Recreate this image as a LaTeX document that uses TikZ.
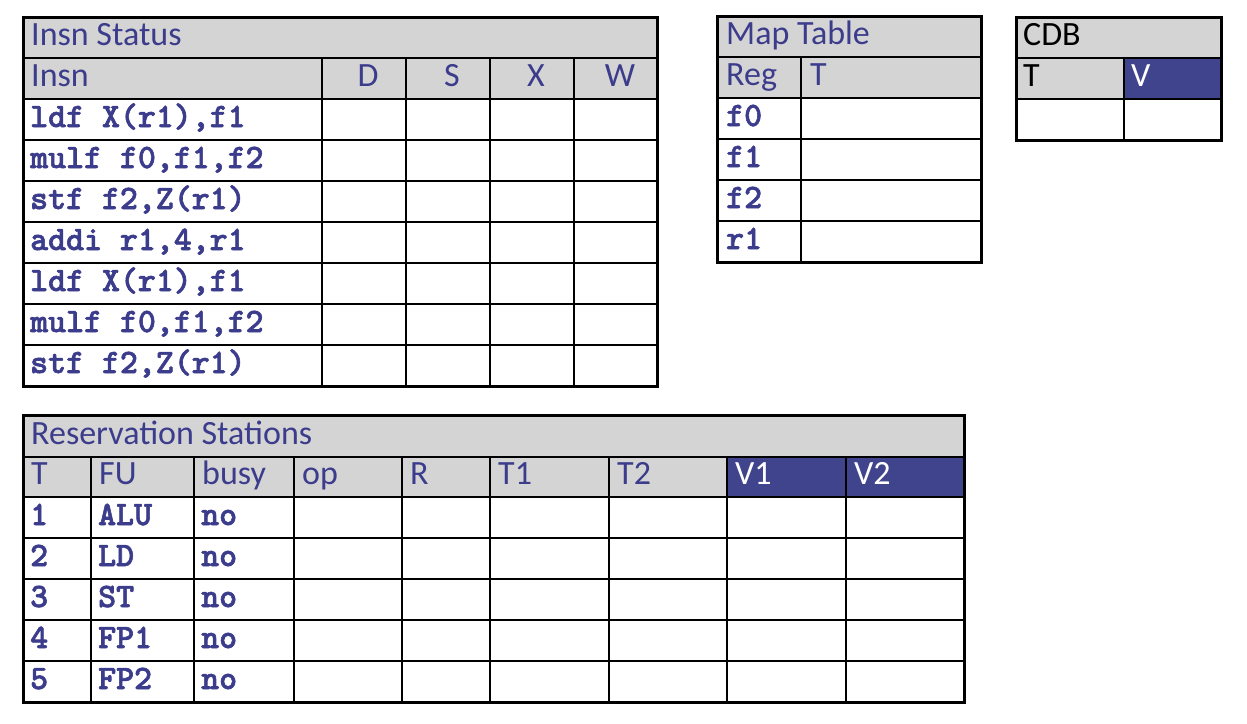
\documentclass[tikz,border=0pt]{standalone}
\usepackage{fontspec}
\setmainfont{Carlito}
\newfontfamily\codefont{lmmonolt10-bold.otf}[FakeBold=1.8]
\definecolor{txtblue}{RGB}{60,60,140}
\definecolor{hdrgray}{RGB}{212,212,212}
\definecolor{vblue}{RGB}{64,68,140}
\begin{document}
\begin{tikzpicture}[x=1pt,y=-1pt,
  lab/.style={anchor=base west, inner sep=0pt, text=txtblue, font=\fontsize{34}{40}\selectfont},
  labc/.style={anchor=base, inner sep=0pt, text=txtblue, font=\fontsize{34}{40}\selectfont},
  code/.style={anchor=base west, inner sep=0pt, text=txtblue, font=\codefont\fontsize{34.2}{40}\selectfont},
  innerln/.style={line width=1.5pt, draw=black},
  outerln/.style={line width=3pt, draw=black},
  grayfill/.style={fill=hdrgray},
  bluefill/.style={fill=vblue}]
\useasboundingbox (0,0) rectangle (1247,723);

% ================= Insn Status =================
\fill[grayfill] (23,17) rectangle (657,99);
\foreach \y in {58,99,140,181,222,263,304,345}
  \draw[innerln] (23,\y) -- (657,\y);
\foreach \x in {322,406,490,574}
  \draw[innerln] (\x,58) -- (\x,386);
\draw[outerln] (23,17) rectangle (657,386);
\node[lab] (istitle) at (31,45) {Insn Status};
\node[lab] (ishdr) at (31,86) {Insn};
\node[labc] (isD) at (368,86) {D};
\node[labc] (isS) at (452,86) {S};
\node[labc] (isX) at (536,86) {X};
\node[labc] (isW) at (620,86) {W};
\foreach \t [count=\i from 0] in {ldf X(r1){,}f1, mulf f0{,}f1{,}f2, stf f2{,}Z(r1), addi r1{,}4{,}r1, ldf X(r1){,}f1, mulf f0{,}f1{,}f2, stf f2{,}Z(r1)}
  \node[code] (ins\i) at (30,{127+41*\i}) {\t};

% ================= Map Table =================
\fill[grayfill] (717,16) rectangle (981,98);
\foreach \y in {57,98,139,180,221}
  \draw[innerln] (717,\y) -- (981,\y);
\draw[innerln] (801,57) -- (801,262);
\draw[outerln] (717,16) rectangle (981,262);
\node[lab] (mttitle) at (726,44) {Map Table};
\node[lab] (mtreg) at (726,85) {Reg};
\node[lab] (mtT) at (810,85) {T};
\foreach \r [count=\i from 0] in {f0,f1,f2,r1}
  \node[code] (mt\r) at (726,{126+41*\i}) {\r};

% ================= CDB =================
\fill[grayfill] (1016,17) rectangle (1221,99);
\fill[bluefill] (1124,58) rectangle (1221,99);
\draw[innerln] (1016,58) -- (1221,58);
\draw[innerln] (1016,99) -- (1221,99);
\draw[innerln] (1124,58) -- (1124,140);
\draw[outerln] (1016,17) rectangle (1221,140);
\node[lab, text=black] (cdbtitle) at (1023,45) {CDB};
\node[lab, text=black] (cdbT) at (1023,86) {T};
\node[lab, text=white] (cdbV) at (1131,86) {V};

% ================= Reservation Stations =================
\fill[grayfill] (23,415) rectangle (964,497);
\fill[bluefill] (727,457) rectangle (964,497);
\foreach \y in {457,497,538,579,620,661}
  \draw[innerln] (23,\y) -- (964,\y);
\foreach \x in {91,194,294,402,490,609,727,846}
  \draw[innerln] (\x,457) -- (\x,702);
\draw[outerln] (23,415) rectangle (964,702);
\node[lab] (rstitle) at (31,444) {Reservation Stations};
\foreach \h/\x [count=\i] in {T/31, FU/99, busy/202, op/302, R/410, T1/498, T2/617}
  \node[lab] (rsh\i) at (\x,484) {\h};
\node[lab, text=white] (rshV1) at (735,484) {V1};
\node[lab, text=white] (rshV2) at (854,484) {V2};
\foreach \fu [count=\i] in {ALU,LD,ST,FP1,FP2}{
  \node[code] (rsT\i) at (30,{525+41*(\i-1)}) {\i};
  \node[code] (rsFU\i) at (98,{525+41*(\i-1)}) {\fu};
  \node[code] (rsB\i) at (201,{525+41*(\i-1)}) {no};
}
\end{tikzpicture}
\end{document}
